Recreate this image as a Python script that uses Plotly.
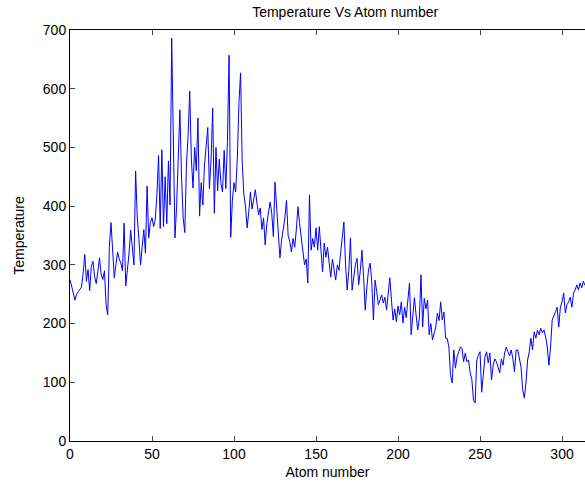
import plotly.graph_objects as go

# Temperature readings per atom, atoms 0..314
temp_0_99 = [
    275, 265, 252, 240, 250, 254, 258, 262, 285, 318,
    272, 292, 256, 298, 306, 280, 268, 295, 312, 284,
    275, 290, 232, 215, 330, 372, 320, 278, 300, 322,
    310, 303, 290, 371, 264, 290, 320, 359, 330, 300,
    460, 380, 345, 300, 330, 360, 320, 434, 346, 372,
    380, 365, 378, 420, 486, 362, 496, 365, 450, 370,
    477, 402, 686, 520, 346, 400, 470, 564, 450, 380,
    355, 470, 520, 596, 480, 431, 500, 460, 550, 383,
    440, 402, 470, 500, 534, 430, 480, 567, 388, 500,
    426, 480, 440, 424, 495, 430, 510, 657, 347, 410,
]
temp_100_199 = [
    440, 424, 480, 575, 627, 475, 420, 400, 363, 390,
    424, 395, 410, 428, 405, 385, 397, 360, 380, 334,
    370, 390, 407, 388, 348, 441, 400, 360, 312, 342,
    360, 380, 410, 350, 340, 322, 345, 330, 360, 399,
    370, 348, 330, 300, 310, 269, 419, 325, 345, 330,
    363, 325, 365, 320, 288, 337, 313, 330, 300, 279,
    310, 295, 274, 300, 291, 320, 345, 373, 300, 257,
    290, 346, 257, 280, 300, 311, 266, 290, 325, 280,
    223, 262, 291, 303, 271, 206, 274, 255, 232, 240,
    249, 235, 245, 223, 250, 278, 240, 206, 225, 203,
]
temp_200_314 = [
    230, 215, 237, 201, 228, 210, 240, 269, 181, 220,
    244, 215, 189, 209, 283, 194, 243, 225, 240, 181,
    200, 172, 185, 194, 218, 205, 237, 206, 220, 175,
    175, 160, 112, 99, 155, 124, 143, 150, 160, 158,
    135, 150, 135, 138, 116, 105, 70, 65, 138, 146,
    152, 83, 120, 143, 152, 133, 150, 104, 129, 140,
    135, 126, 116, 140, 129, 150, 160, 152, 145, 155,
    141, 118, 155, 155, 143, 126, 87, 73, 99, 138,
    152, 175, 155, 186, 175, 189, 181, 192, 184, 189,
    177, 160, 129, 160, 206, 215, 220, 228, 194, 228,
    237, 252, 218, 232, 237, 245, 228, 252, 257, 266,
    257, 269, 261, 272, 265,
]
temperature = temp_0_99 + temp_100_199 + temp_200_314
atoms = list(range(len(temperature)))

x_ticks = [0, 50, 100, 150, 200, 250, 300]
y_ticks = [0, 100, 200, 300, 400, 500, 600, 700]

font = dict(family="Liberation Sans, Arial, sans-serif", size=14, color="black")

fig = go.Figure(
    go.Scatter(x=atoms, y=temperature, mode="lines",
               line=dict(color="rgb(0,0,255)", width=1), hoverinfo="skip")
)

fig.update_layout(
    width=585, height=490,
    margin=dict(l=70, r=0, t=30, b=49),
    paper_bgcolor="white", plot_bgcolor="white",
    showlegend=False, font=font,
    title=dict(text="Temperature Vs Atom number", x=0.59, xanchor="center",
               y=0.985, yanchor="top", font=dict(size=14)),
)
fig.update_xaxes(
    range=[0, 314], tickvals=x_ticks, ticks="inside", ticklen=5,
    tickfont=dict(size=14),
    showline=True, linecolor="black", linewidth=1, mirror="ticks",
    showgrid=False, zeroline=False,
    title=dict(text="Atom number", standoff=6, font=dict(size=14)),
)
fig.update_yaxes(
    range=[0, 700], tickvals=y_ticks, ticks="inside", ticklen=5,
    tickfont=dict(size=14),
    showline=True, linecolor="black", linewidth=1, mirror=False,
    showgrid=False, zeroline=False,
    title=dict(text="Temperature", standoff=14, font=dict(size=14)),
)

fig.write_html("out.html")
